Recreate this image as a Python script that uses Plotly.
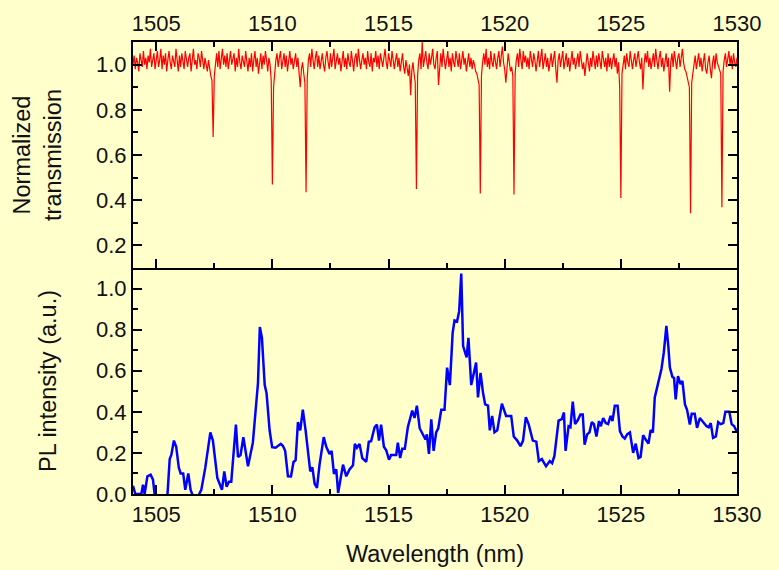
import numpy as np
import plotly.graph_objects as go

# ---- Transmission spectrum (top panel), sampled every 0.05 nm from 1504 nm ----
wl_start = 1504.0
wl_step = 0.05
transmission = [
    1.00, 1.04, 0.98, 1.03, 1.01, 0.97, 1.05, 1.02, 0.99, 1.06, 1.00, 1.03, 0.98, 1.04, 1.01, 1.07, 0.99, 1.02, 1.05, 0.98,
    1.03, 1.06, 0.99, 1.02, 1.07, 0.98, 1.04, 1.00, 1.05, 0.97, 1.02, 1.06, 1.01, 0.98, 1.04, 1.02, 0.99, 1.07, 1.00, 0.97,
    1.04, 0.99, 1.05, 1.01, 0.98, 1.06, 1.02, 0.99, 1.03, 1.05, 0.97, 1.03, 1.07, 1.00, 1.02, 0.98, 1.05, 1.03, 0.99, 1.06,
    1.01, 0.98, 1.03, 1.00, 0.97, 1.02, 0.97, 0.95, 0.93, 0.68, 0.95, 1.01, 1.05, 0.99, 1.06, 0.98, 1.03, 1.07, 1.00, 1.04,
    0.99, 1.05, 0.98, 1.03, 1.06, 1.00, 1.02, 1.05, 0.97, 1.03, 0.99, 1.07, 1.01, 0.98, 1.04, 1.02, 0.99, 1.06, 1.01, 0.97,
    1.03, 0.99, 1.05, 0.97, 1.02, 1.06, 0.99, 1.03, 0.96, 1.01, 1.05, 0.98, 1.04, 1.00, 1.06, 1.02, 0.97, 1.03, 1.00, 0.93,
    0.47, 0.90, 0.97, 1.02, 1.05, 0.99, 1.03, 1.06, 0.98, 1.01, 1.05, 0.99, 1.04, 0.97, 1.02, 1.06, 1.00, 1.03, 0.98, 1.02,
    1.05, 0.99, 1.03, 0.96, 0.90, 0.98, 1.01, 0.96, 0.92, 0.435, 0.94, 1.02, 1.05, 0.99, 1.07, 1.02, 0.98, 1.03, 1.06, 0.99,
    1.04, 0.98, 1.02, 1.05, 1.00, 0.97, 1.03, 1.06, 1.01, 0.98, 1.05, 0.99, 1.03, 1.07, 0.98, 1.02, 1.05, 1.00, 1.03, 0.97,
    1.02, 1.06, 0.99, 1.03, 0.98, 1.05, 1.01, 0.99, 1.06, 1.02, 0.97, 1.03, 1.05, 0.99, 1.07, 1.02, 0.98, 1.02, 1.05, 1.00,
    1.03, 0.98, 1.06, 1.01, 0.99, 1.05, 0.97, 1.03, 1.01, 1.06, 0.99, 1.04, 0.98, 1.05, 1.01, 0.99, 1.03, 1.07, 1.01, 0.98,
    1.05, 1.01, 0.99, 1.06, 1.02, 0.98, 1.02, 1.05, 0.99, 1.03, 0.97, 1.02, 1.05, 0.99, 0.96, 1.02, 0.98, 0.95, 1.00, 0.864,
    0.97, 1.01, 0.96, 0.92, 0.45, 0.95, 1.02, 1.05, 0.98, 1.10, 0.99, 1.03, 1.06, 1.01, 0.98, 1.05, 1.00, 1.03, 1.07, 1.00,
    0.98, 1.03, 1.06, 0.91, 1.01, 1.05, 0.99, 1.07, 1.02, 0.98, 1.02, 1.06, 0.99, 1.03, 0.97, 1.05, 1.01, 0.99, 1.06, 1.02,
    0.99, 1.05, 0.98, 1.02, 1.06, 1.00, 1.03, 0.97, 1.01, 1.05, 0.99, 1.03, 0.98, 1.02, 1.00, 0.97, 0.96, 0.94, 0.91, 0.43,
    0.95, 1.01, 1.05, 1.00, 1.07, 0.99, 1.03, 0.98, 1.06, 1.01, 0.99, 1.05, 1.02, 0.98, 1.03, 1.06, 0.99, 1.03, 1.08, 1.01,
    0.98, 0.92, 1.00, 1.05, 1.01, 0.97, 0.99, 0.95, 0.425, 0.96, 1.02, 1.05, 0.99, 1.07, 1.02, 0.98, 1.06, 1.01, 1.04, 0.99,
    1.03, 0.98, 1.06, 1.01, 0.99, 1.05, 1.02, 0.97, 1.02, 1.06, 0.99, 1.03, 1.07, 0.98, 1.02, 1.05, 0.99, 1.03, 0.97, 1.02,
    1.05, 0.99, 1.03, 1.06, 0.98, 0.92, 1.02, 1.05, 0.99, 1.03, 1.06, 0.98, 1.02, 1.05, 0.99, 1.03, 0.97, 1.02, 1.06, 1.00,
    1.03, 0.98, 1.02, 1.05, 0.99, 1.06, 1.02, 0.98, 1.01, 0.95, 1.00, 1.05, 1.01, 0.97, 1.03, 0.99, 1.06, 1.01, 0.98, 1.04,
    0.99, 1.05, 1.01, 0.98, 1.06, 1.02, 0.99, 1.03, 0.97, 1.05, 0.99, 1.03, 0.98, 1.02, 1.05, 0.99, 1.03, 0.96, 1.01, 0.90,
    0.41, 0.96, 1.01, 1.04, 0.98, 1.05, 1.01, 0.99, 1.06, 1.02, 0.98, 1.02, 1.05, 0.99, 1.03, 1.06, 1.01, 0.98, 1.03, 0.89,
    1.00, 1.05, 1.01, 1.06, 0.99, 1.03, 0.98, 1.02, 1.05, 0.99, 1.07, 1.02, 0.98, 1.03, 1.06, 0.99, 1.03, 0.97, 1.02, 1.05,
    0.99, 1.03, 0.88, 1.01, 1.05, 0.99, 1.06, 1.02, 0.98, 1.03, 1.05, 0.99, 1.04, 1.07, 1.01, 0.98, 0.97, 0.95, 0.93, 0.90,
    0.342, 0.92, 0.96, 1.01, 1.04, 0.98, 1.02, 1.05, 0.99, 1.03, 0.97, 1.02, 1.05, 0.98, 0.96, 1.01, 1.04, 0.98, 0.94, 1.01,
    1.04, 0.98, 1.05, 1.01, 0.99, 0.97, 0.96, 0.369, 0.97, 1.02, 1.05, 0.99, 1.03, 1.06, 1.00, 1.04, 0.98, 1.05, 1.01, 0.99,
    1.03,
]
trans_wl = np.round(wl_start + wl_step * np.arange(len(transmission)), 3)

# ---- Photoluminescence spectrum (bottom panel) ----
pl_wl = [
    1504.00, 1504.10, 1504.36, 1504.43, 1504.50, 1504.62, 1504.76, 1504.86, 1504.93, 1505.22,
    1505.48, 1505.58, 1505.65, 1505.76, 1505.86, 1505.97, 1506.05, 1506.16, 1506.25, 1506.38,
    1506.48, 1506.58, 1506.72, 1506.87, 1506.94, 1507.11, 1507.33, 1507.44, 1507.63, 1507.83,
    1507.93, 1508.03, 1508.13, 1508.23, 1508.35, 1508.43, 1508.52, 1508.63, 1508.75, 1508.83,
    1508.95, 1509.16, 1509.28, 1509.38, 1509.46, 1509.55, 1509.67, 1509.75, 1509.88, 1509.99,
    1510.14, 1510.36, 1510.45, 1510.55, 1510.67, 1510.80, 1510.91, 1511.00, 1511.10, 1511.20,
    1511.31, 1511.43, 1511.63, 1511.72, 1511.82, 1511.92, 1512.03, 1512.21, 1512.32, 1512.46,
    1512.55, 1512.65, 1512.75, 1512.83, 1513.04, 1513.18, 1513.32, 1513.47, 1513.55, 1513.64,
    1513.75, 1513.87, 1514.04, 1514.15, 1514.25, 1514.40, 1514.50, 1514.59, 1514.68, 1514.80,
    1514.90, 1515.02, 1515.11, 1515.33, 1515.40, 1515.50, 1515.59, 1515.70, 1515.83, 1516.02,
    1516.12, 1516.22, 1516.34, 1516.48, 1516.59, 1516.65, 1516.74, 1516.84, 1516.94, 1517.05,
    1517.14, 1517.27, 1517.41, 1517.52, 1517.64, 1517.76, 1517.84, 1517.95, 1518.04, 1518.13,
    1518.21, 1518.36, 1518.44, 1518.56, 1518.67, 1518.77, 1518.85, 1518.96, 1519.07, 1519.16,
    1519.28, 1519.36, 1519.46, 1519.56, 1519.68, 1519.88, 1520.06, 1520.28, 1520.39, 1520.54,
    1520.68, 1520.79, 1520.91, 1521.03, 1521.21, 1521.36, 1521.47, 1521.60, 1521.78, 1521.94,
    1522.04, 1522.14, 1522.32, 1522.46, 1522.55, 1522.62, 1522.75, 1522.83, 1522.93, 1523.03,
    1523.15, 1523.26, 1523.36, 1523.44, 1523.55, 1523.65, 1523.75, 1523.84, 1523.95, 1524.06,
    1524.14, 1524.24, 1524.35, 1524.45, 1524.56, 1524.64, 1524.74, 1524.86, 1524.96, 1525.07,
    1525.17, 1525.27, 1525.39, 1525.53, 1525.64, 1525.76, 1525.85, 1525.96, 1526.07, 1526.19,
    1526.28, 1526.38, 1526.46, 1526.60, 1526.75, 1526.85, 1526.96, 1527.05, 1527.11, 1527.22,
    1527.29, 1527.36, 1527.46, 1527.57, 1527.65, 1527.76, 1527.85, 1527.97, 1528.05, 1528.18,
    1528.28, 1528.40, 1528.54, 1528.69, 1528.78, 1528.87, 1528.97, 1529.09, 1529.19, 1529.30,
    1529.41, 1529.50, 1529.67, 1529.77, 1529.88, 1529.98,
]
pl_intensity = [
    0.04, 0.00, 0.00, 0.045, 0.00, 0.086, 0.094, 0.07, 0.00, -0.06,
    -0.01, 0.17, 0.19, 0.26, 0.23, 0.13, 0.10, 0.10, 0.02, 0.10,
    0.02, -0.01, -0.03, 0.01, 0.02, 0.127, 0.30, 0.26, 0.078, 0.02,
    0.11, 0.035, 0.06, 0.06, 0.224, 0.338, 0.18, 0.19, 0.277, 0.21,
    0.135, 0.25, 0.40, 0.54, 0.813, 0.76, 0.53, 0.49, 0.31, 0.228,
    0.225, 0.244, 0.235, 0.21, 0.086, 0.085, 0.156, 0.165, 0.35, 0.31,
    0.41, 0.31, 0.11, 0.13, 0.05, 0.03, 0.143, 0.277, 0.23, 0.195,
    0.21, 0.098, 0.12, 0.005, 0.143, 0.086, 0.12, 0.14, 0.244, 0.225,
    0.244, 0.175, 0.156, 0.254, 0.257, 0.325, 0.338, 0.26, 0.338, 0.23,
    0.213, 0.167, 0.19, 0.19, 0.25, 0.175, 0.22, 0.22, 0.325, 0.406,
    0.37, 0.43, 0.32, 0.286, 0.265, 0.29, 0.195, 0.363, 0.21, 0.30,
    0.32, 0.41, 0.41, 0.615, 0.53, 0.785, 0.845, 0.84, 0.89, 1.073,
    0.72, 0.665, 0.76, 0.53, 0.585, 0.64, 0.47, 0.59, 0.49, 0.436,
    0.43, 0.31, 0.38, 0.30, 0.31, 0.44, 0.38, 0.38, 0.28, 0.26,
    0.233, 0.26, 0.374, 0.34, 0.26, 0.255, 0.16, 0.17, 0.135, 0.16,
    0.15, 0.185, 0.357, 0.365, 0.397, 0.21, 0.33, 0.325, 0.45, 0.34,
    0.36, 0.387, 0.387, 0.24, 0.29, 0.30, 0.35, 0.34, 0.28, 0.355,
    0.33, 0.37, 0.345, 0.34, 0.38, 0.355, 0.43, 0.43, 0.306, 0.28,
    0.27, 0.29, 0.30, 0.20, 0.245, 0.175, 0.18, 0.286, 0.265, 0.245,
    0.31, 0.30, 0.47, 0.54, 0.61, 0.69, 0.818, 0.71, 0.615, 0.57,
    0.565, 0.46, 0.574, 0.535, 0.55, 0.436, 0.41, 0.338, 0.39, 0.39,
    0.322, 0.37, 0.35, 0.33, 0.325, 0.345, 0.273, 0.28, 0.35, 0.34,
    0.345, 0.40, 0.40, 0.34, 0.33, 0.306,
]

x_ticks = [1505, 1510, 1515, 1520, 1525, 1530]

BG = "#FFFFCC"
TICK_FONT = dict(family="Liberation Sans, Arial, sans-serif", size=22, color="#111111")
TITLE_FONT = dict(family="Liberation Sans, Arial, sans-serif", size=23.5, color="#111111")

fig = go.Figure()
fig.add_trace(go.Scatter(x=trans_wl, y=transmission, mode="lines",
                         line=dict(color="#FF0000", width=1.2), xaxis="x2", yaxis="y2",
                         showlegend=False, hoverinfo="skip"))
fig.add_trace(go.Scatter(x=pl_wl, y=pl_intensity, mode="lines",
                         line=dict(color="#0000FF", width=2.5), xaxis="x", yaxis="y",
                         showlegend=False, hoverinfo="skip"))

axis_common = dict(showline=True, linecolor="black", linewidth=2, ticks="inside",
                   tickcolor="black", tickwidth=2, ticklen=9, showgrid=False,
                   zeroline=False, tickfont=TICK_FONT, automargin=False)
minor_common = dict(ticklen=5, tickwidth=2, tickcolor="black", ticks="inside")

fig.update_layout(
    width=779, height=570,
    margin=dict(l=133, r=42, t=42, b=76),
    paper_bgcolor=BG, plot_bgcolor=BG,
    font=TICK_FONT,
    xaxis=dict(axis_common, range=[1504, 1530], anchor="y", side="bottom", mirror=False,
               tickmode="array", tickvals=x_ticks,
               minor=dict(minor_common, tickmode="linear", tick0=1502.5, dtick=5),
               title=dict(text="Wavelength (nm)", font=TITLE_FONT, standoff=19)),
    xaxis2=dict(axis_common, range=[1504, 1530], anchor="y2", side="top", mirror="ticks",
                tickmode="array", tickvals=x_ticks,
                minor=dict(minor_common, tickmode="linear", tick0=1502.5, dtick=5)),
    yaxis=dict(axis_common, range=[0, 1.1], domain=[0, 0.5], anchor="x", mirror="ticks",
               tickmode="linear", tick0=0, dtick=0.2, tickformat=".1f",
               minor=dict(minor_common, tickmode="linear", tick0=0.1, dtick=0.2),
               title=dict(text="PL intensity (a.u.)", font=TITLE_FONT, standoff=33)),
    yaxis2=dict(axis_common, range=[0.1, 1.1], domain=[0.5, 1], anchor="x2", mirror="ticks",
                tickmode="array", tickvals=[0.2, 0.4, 0.6, 0.8, 1.0], tickformat=".1f",
                minor=dict(minor_common, tickmode="linear", tick0=0.1, dtick=0.2),
                title=dict(text="Normalized<br>transmission", font=TITLE_FONT, standoff=28)),
)

fig.write_html("out.html")
